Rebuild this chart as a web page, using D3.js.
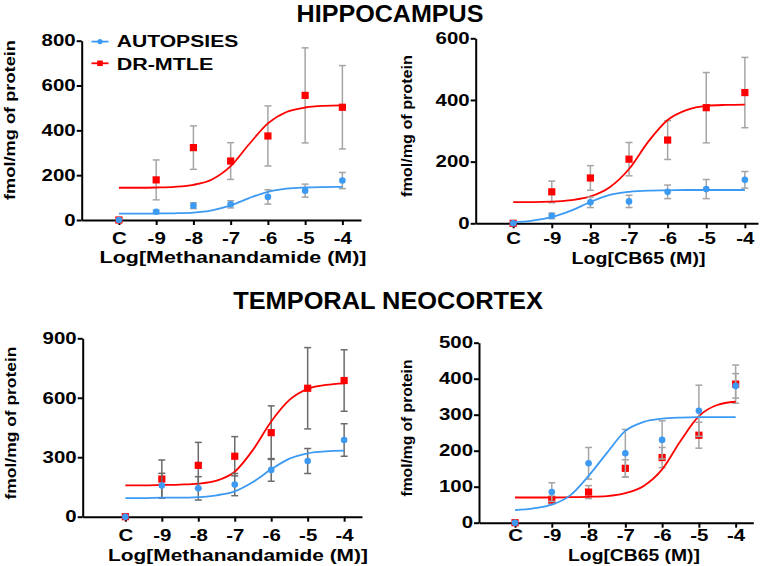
<!DOCTYPE html>
<html>
<head>
<meta charset="utf-8">
<script src="https://cdn.jsdelivr.net/npm/d3@7"></script>
<style>
  body { margin: 0; background: #fff; }
  svg { display: block; }
  text { font-family: "Liberation Sans", Arial, sans-serif; font-weight: bold; fill: #000; }
</style>
</head>
<body>
<div id="chart"></div>
<script>
// ---- data ----
const doseTicks = [-10, -9, -8, -7, -6, -5, -4];
const doseLabels = ['C', '-9', '-8', '-7', '-6', '-5', '-4'];
const fitLogs = [-10, -9.5, -9, -8.5, -8, -7.5, -7, -6.5, -6, -5.5, -5, -4.5, -4];
const seriesNames = ['AUTOPSIES', 'DR-MTLE'];
const regionTitles = ['HIPPOCAMPUS', 'TEMPORAL NEOCORTEX'];
const agonistLabels = ['Log[Methanandamide (M)]', 'Log[CB65 (M)]'];
const yTitle = 'fmol/mg of protein';

// hippocampus, methanandamide
const hipMethAutMean = [0, 37, 64, 70, 103, 131, 176];
const hipMethAutSem = [0, 6, 13, 16, 32, 29, 36];
const hipMethDrMean = [0, 179, 323, 263, 375, 556, 503];
const hipMethDrSem = [0, 89, 97, 82, 134, 212, 186];
const hipMethAutFit = [28, 28, 29, 30, 33, 43, 65, 98, 126, 140, 145, 147, 148];
const hipMethDrFit = [144, 144, 145, 148, 157, 181, 240, 339, 431, 482, 502, 509, 511];

// hippocampus, CB65
const hipCbAutMean = [0, 24, 68, 71, 102, 111, 141];
const hipCbAutSem = [0, 9, 17, 20, 22, 31, 27];
const hipCbDrMean = [0, 102, 147, 208, 270, 375, 424];
const hipCbDrSem = [0, 35, 40, 54, 63, 114, 114];
const hipCbAutFit = [3, 9, 20, 41, 69, 92, 102, 106, 107, 108, 108, 108, 108];
const hipCbDrFit = [69, 69, 70, 75, 87, 117, 176, 265, 335, 368, 381, 384, 385];

// temporal neocortex, methanandamide
const tmpMethAutMean = [0, 157, 143, 162, 236, 281, 387];
const tmpMethAutSem = [0, 62, 59, 56, 57, 63, 82];
const tmpMethDrMean = [0, 190, 259, 305, 424, 648, 687];
const tmpMethDrSem = [0, 96, 116, 99, 135, 205, 155];
const tmpMethAutFit = [94, 94, 96, 96, 99, 108, 128, 175, 239, 293, 320, 330, 333];
const tmpMethDrFit = [158, 158, 160, 162, 167, 182, 227, 337, 480, 589, 645, 665, 673];

// temporal neocortex, CB65
const tmpCbAutMean = [0, 85, 165, 193, 230, 311, 380];
const tmpCbAutSem = [0, 26, 44, 66, 53, 71, 34];
const tmpCbDrMean = [0, 63, 85, 151, 181, 243, 385];
const tmpCbDrSem = [0, 11, 18, 24, 28, 36, 53];
const tmpCbAutFit = [35, 40, 50, 76, 130, 194, 255, 280, 289, 292, 293, 293, 293];
const tmpCbDrFit = [70, 70, 70, 71, 72, 74, 82, 102, 148, 227, 296, 327, 336];

const yTicksHipMeth = [0, 200, 400, 600, 800];
const yTicksHipCb = [0, 200, 400, 600];
const yTicksTmpMeth = [0, 300, 600, 900];
const yTicksTmpCb = [0, 100, 200, 300, 400, 500];

// ---- styling / layout ----
const RED = '#ff0000';
const BLUE = '#3d9af2';
const W = 765, H = 566;

const panels = [
  {
    aut: [hipMethAutMean, hipMethAutSem, hipMethAutFit], dr: [hipMethDrMean, hipMethDrSem, hipMethDrFit],
    yTicks: yTicksHipMeth, xLabel: agonistLabels[0],
    x0: 81.7, x1: 361, dom: [-11, -3.5], yb: 220, yt: 40.7, tickPad: 12, err: '#a5a5a5',
    xl: { cx: 233, y: 262.5, w: 267 }, yl: { x: 14.5, cy: 120, w: 160 }, legend: true
  },
  {
    aut: [hipCbAutMean, hipCbAutSem, hipCbAutFit], dr: [hipCbDrMean, hipCbDrSem, hipCbDrFit],
    yTicks: yTicksHipCb, xLabel: agonistLabels[1],
    x0: 475.7, x1: 758, dom: [-10.97, -3.66], yb: 223.3, yt: 38.3, tickPad: 9, err: '#a5a5a5',
    xl: { cx: 638.5, y: 264, w: 134 }, yl: { x: 412.3, cy: 126, w: 142 }
  },
  {
    aut: [tmpMethAutMean, tmpMethAutSem, tmpMethAutFit], dr: [tmpMethDrMean, tmpMethDrSem, tmpMethDrFit],
    yTicks: yTicksTmpMeth, xLabel: agonistLabels[0],
    x0: 82.7, x1: 362, dom: [-11.17, -3.51], yb: 516.7, yt: 338.3, tickPad: 13, err: '#6b6b6b',
    xl: { cx: 238, y: 561, w: 260 }, yl: { x: 15.5, cy: 423, w: 153 }
  },
  {
    aut: [tmpCbAutMean, tmpCbAutSem, tmpCbAutFit], dr: [tmpCbDrMean, tmpCbDrSem, tmpCbDrFit],
    yTicks: yTicksTmpCb, xLabel: agonistLabels[1],
    x0: 479, x1: 753.3, dom: [-10.98, -3.52], yb: 522.7, yt: 342.7, tickPad: 7, err: '#a5a5a5',
    xl: { cx: 634, y: 561, w: 132 }, yl: { x: 412, cy: 428, w: 137 }
  }
];

const svg = d3.select('#chart').append('svg')
  .attr('width', W)
  .attr('height', H);

// text stretched horizontally to the measured width (figure font is wide)
function wideText(parent, str, x, y, size, width, anchor, rot) {
  const t = parent.append('text')
    .attr('font-size', size)
    .attr('text-anchor', anchor || 'middle')
    .text(str);
  const k = width / t.node().getComputedTextLength();
  t.attr('transform', `translate(${x},${y}) rotate(${rot || 0}) scale(${k},1)`);
  return t;
}

wideText(svg, regionTitles[0], 390, 21.5, 24, 187);
wideText(svg, regionTitles[1], 388, 308.5, 24, 310);

const TICK_FONT = 16.5, TICK_SX = 1.24;

panels.forEach(p => {
  const g = svg.append('g');
  const x = d3.scaleLinear().domain(p.dom).range([p.x0, p.x1]);
  const yMax = p.yTicks[p.yTicks.length - 1];
  const y = d3.scaleLinear().domain([0, yMax]).range([p.yb, p.yt]);

  // axes
  const xAxis = g.append('g')
    .attr('transform', `translate(0,${p.yb})`)
    .call(d3.axisBottom(x).tickValues(doseTicks).tickFormat((d, i) => doseLabels[i])
      .tickSize(5).tickSizeOuter(0).tickPadding(p.tickPad - 5));
  const yAxis = g.append('g')
    .attr('transform', `translate(${p.x0},0)`)
    .call(d3.axisLeft(y).tickValues(p.yTicks).tickSize(5).tickSizeOuter(0).tickPadding(1));

  [xAxis, yAxis].forEach(a => {
    a.select('.domain').attr('stroke', '#000').attr('stroke-width', 2);
    a.selectAll('.tick line').attr('stroke', '#000').attr('stroke-width', 2);
    a.selectAll('.tick text')
      .attr('font-size', TICK_FONT)
      .attr('font-family', '"Liberation Sans", Arial, sans-serif')
      .attr('font-weight', 'bold')
      .attr('fill', '#000');
  });
  xAxis.selectAll('.tick text').attr('transform', `scale(${TICK_SX},1)`);
  yAxis.selectAll('.tick text').attr('x', -6 / TICK_SX).attr('transform', `scale(${TICK_SX},1)`);

  wideText(g, p.xLabel, p.xl.cx, p.xl.y, 17, p.xl.w);
  wideText(g, yTitle, p.yl.x, p.yl.cy, 15, p.yl.w, 'middle', -90);

  const line = d3.line()
    .x((d, i) => x(fitLogs[i]))
    .y(d => y(d))
    .curve(d3.curveMonotoneX);

  function drawSeries(ser, color, isRed) {
    const [mean, sem, fit] = ser;
    const pts = doseTicks.map((d, i) => ({ x: d, m: mean[i], s: sem[i] }));

    const eb = g.append('g').attr('stroke', p.err).attr('stroke-width', 1.5).attr('fill', 'none');
    pts.filter(d => d.s > 0).forEach(d => {
      const cx = x(d.x);
      eb.append('line').attr('x1', cx).attr('x2', cx).attr('y1', y(d.m - d.s)).attr('y2', y(d.m + d.s));
      [d.m - d.s, d.m + d.s].forEach(v => {
        eb.append('line').attr('x1', cx - 3.5).attr('x2', cx + 3.5).attr('y1', y(v)).attr('y2', y(v));
      });
    });

    g.append('path')
      .datum(fit)
      .attr('d', line)
      .attr('fill', 'none')
      .attr('stroke', color)
      .attr('stroke-width', 1.8);

    if (isRed) {
      g.selectAll(null).data(pts).enter().append('rect')
        .attr('x', d => x(d.x) - 3.6)
        .attr('y', d => y(d.m) - 3.6)
        .attr('width', 7.2)
        .attr('height', 7.2)
        .attr('fill', color);
    } else {
      g.selectAll(null).data(pts).enter().append('circle')
        .attr('cx', d => x(d.x))
        .attr('cy', d => y(d.m))
        .attr('r', 3.3)
        .attr('fill', color);
    }
  }

  drawSeries(p.dr, RED, true);
  drawSeries(p.aut, BLUE, false);

  if (p.legend) {
    const lg = g.append('g');
    const items = [
      { name: seriesNames[0], color: BLUE, ly: 41.6, ty: 47.3, w: 121.7 },
      { name: seriesNames[1], color: RED, ly: 63.3, ty: 69.5, w: 96.7 }
    ];
    items.forEach((it, i) => {
      lg.append('line')
        .attr('x1', 91.5).attr('x2', 108.5)
        .attr('y1', it.ly).attr('y2', it.ly)
        .attr('stroke', it.color).attr('stroke-width', 1.8);
      if (i === 0) {
        lg.append('circle').attr('cx', 100).attr('cy', it.ly).attr('r', 2.6).attr('fill', it.color);
      } else {
        lg.append('rect').attr('x', 97.2).attr('y', it.ly - 2.8).attr('width', 5.6).attr('height', 5.6).attr('fill', it.color);
      }
      wideText(lg, it.name, 116.7, it.ty, 17, it.w, 'start');
    });
  }
});
</script>
</body>
</html>
